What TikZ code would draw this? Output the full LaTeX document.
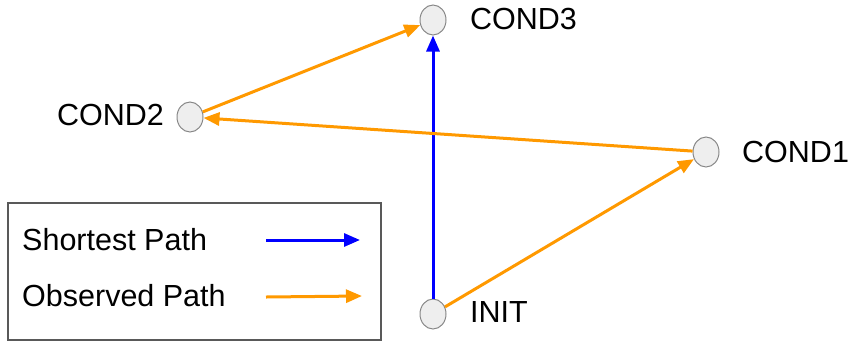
\documentclass[tikz,border=0pt]{standalone}
\usepackage{fontspec}
\setmainfont{Liberation Sans}
\usetikzlibrary{arrows.meta,shapes.geometric}
\definecolor{obs}{HTML}{FF9900}
\definecolor{sp}{HTML}{0000FF}
\definecolor{nodefill}{HTML}{EEEEEE}
\definecolor{nodeline}{HTML}{888888}
\definecolor{boxline}{HTML}{595959}
\begin{document}
\begin{tikzpicture}[x=1pt,y=-1pt,
  state/.style={ellipse,draw=nodeline,fill=nodefill,line width=1pt,minimum width=26pt,minimum height=30pt,inner sep=0pt},
  lbl/.style={font=\fontsize{30.5}{34}\selectfont,anchor=west,inner sep=0pt},
  obsarrow/.style={draw=obs,line width=3pt,-{Triangle[length=16pt,width=13pt]}},
  sparrow/.style={draw=sp,line width=3pt,-{Triangle[length=16pt,width=13pt]}}]
\useasboundingbox (0,0) rectangle (851,341);
\node[state] (c3) at (433,20) {};
\node[state] (c2) at (190,117) {};
\node[state] (c1) at (706,152) {};
\node[state] (init) at (433,314) {};
\node[lbl] (t3) at (470,19) {COND3};
\node[lbl,anchor=east] (t2) at (164,115) {COND2};
\node[lbl] (t1) at (742,152) {COND1};
\node[lbl] (ti) at (470,312) {INIT};
\draw[sparrow] (init.north) -- (c3.south);
\draw[obsarrow] (init) -- (c1);
\draw[obsarrow] (c1) -- (c2);
\draw[obsarrow] (c2) -- (c3);
\node[draw=boxline,line width=2pt,minimum width=373pt,minimum height=137pt,anchor=north west,inner sep=0pt] (legend) at (7,202) {};
\node[lbl] (ls) at (22,240) {Shortest Path};
\node[lbl] (lo) at (22,296) {Observed Path};
\coordinate (sa) at (266,240);
\coordinate (sb) at (360,240);
\coordinate (oa) at (266,297);
\coordinate (ob) at (362,296);
\draw[sparrow] (sa) -- (sb);
\draw[obsarrow] (oa) -- (ob);
\end{tikzpicture}
\end{document}
